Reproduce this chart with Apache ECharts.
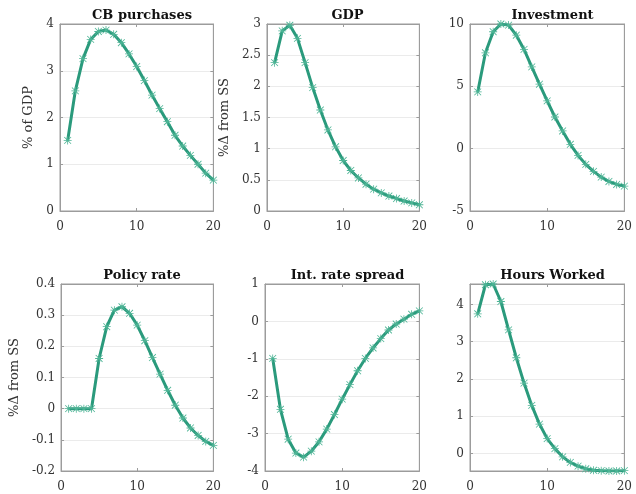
<!DOCTYPE html>
<html>
<head>
<meta charset="utf-8">
<script src="https://cdn.jsdelivr.net/npm/echarts@6/dist/echarts.min.js"></script>
<style>
  html, body { margin: 0; padding: 0; background: #fff; }
  #chart { position: relative; width: 636px; height: 494px; }
</style>
</head>
<body>
<div id="chart"></div>
<script>
// horizon 1..20
var periods = [1,2,3,4,5,6,7,8,9,10,11,12,13,14,15,16,17,18,19,20];

var titles = ['CB purchases', 'GDP', 'Investment', 'Policy rate', 'Int. rate spread', 'Hours Worked'];
var yNames = ['% of GDP', '%\u0394 from SS', '', '%\u0394 from SS', '', ''];

var cbPurchases = [1.51, 2.57, 3.26, 3.67, 3.84, 3.87, 3.78, 3.60, 3.36, 3.09, 2.79, 2.48, 2.19, 1.91, 1.62, 1.39, 1.19, 1.00, 0.81, 0.66];
var gdp = [2.38, 2.89, 2.98, 2.77, 2.38, 1.98, 1.62, 1.30, 1.03, 0.81, 0.65, 0.53, 0.43, 0.35, 0.29, 0.24, 0.20, 0.16, 0.13, 0.10];
var investment = [4.55, 7.69, 9.38, 10.0, 9.91, 9.10, 7.96, 6.56, 5.17, 3.83, 2.54, 1.42, 0.35, -0.54, -1.26, -1.82, -2.28, -2.63, -2.87, -3.0];
var policyRate = [0, 0, 0, 0, 0.161, 0.263, 0.316, 0.327, 0.306, 0.268, 0.218, 0.164, 0.111, 0.059, 0.011, -0.030, -0.062, -0.086, -0.105, -0.118];
var spread = [-0.99, -2.35, -3.15, -3.52, -3.63, -3.47, -3.22, -2.88, -2.49, -2.08, -1.69, -1.32, -0.99, -0.71, -0.46, -0.23, -0.07, 0.06, 0.19, 0.28];
var hours = [3.75, 4.53, 4.55, 4.08, 3.32, 2.57, 1.89, 1.29, 0.79, 0.40, 0.13, -0.09, -0.24, -0.34, -0.41, -0.45, -0.46, -0.47, -0.47, -0.46];

var seriesData = [cbPurchases, gdp, investment, policyRate, spread, hours];

// y axis limits and tick step per panel (last one is tight to the data)
var yMin = [0, 0, -5, -0.2, -4, -0.47];
var yMax = [4, 3, 10, 0.4, 1, 4.55];
var yStep = [1, 0.5, 5, 0.1, 1, 0];
var yNameGap = [15, 28, 0, 32, 0, 0];

var lefts = [60, 265, 470];
var widths = [154, 155, 155];
var tops = [24, 284];
var plotH = 187;

var lineColor = '#2a9a7c';
var markColor = '#4db495';
var boxColor = '#9c9c9c';
var textColor = '#333';
var fontFam = 'DejaVu Serif';

var star = 'path://M4.5 0H5.5V10H4.5Z M0 4.5H10V5.5H0Z M1.1 0.4L9.6 8.9L8.9 9.6L0.4 1.1Z M8.9 0.4L9.6 1.1L1.1 9.6L0.4 8.9Z';

var host = document.getElementById('chart');

function yAxisFor(i, right) {
    var tight = yStep[i] === 0;
    var ax = {
        type: 'value', min: yMin[i], max: yMax[i],
        position: right ? 'right' : 'left',
        axisLine: { show: true, onZero: false, lineStyle: { color: boxColor } },
        axisTick: { show: true, inside: true, length: 3, lineStyle: { color: boxColor } },
        axisLabel: right ? { show: false } : { color: textColor, fontFamily: fontFam, fontSize: 12, margin: 6 },
        splitLine: { show: !right, lineStyle: { color: '#ebebeb' } }
    };
    if (!right && yNames[i]) {
        ax.name = yNames[i];
        ax.nameLocation = 'middle';
        ax.nameGap = yNameGap[i];
        ax.nameTextStyle = { color: textColor, fontFamily: fontFam, fontSize: 13 };
    }
    if (tight) {
        ax.splitNumber = 5;
        if (!right) {
            ax.axisLabel.showMinLabel = false;
            ax.axisLabel.showMaxLabel = false;
        }
    } else {
        ax.interval = yStep[i];
    }
    return ax;
}

function xAxisFor(top) {
    return {
        type: 'value', min: 0, max: 20, interval: 10,
        position: top ? 'top' : 'bottom',
        axisLine: { show: true, onZero: false, lineStyle: { color: boxColor } },
        axisTick: { show: true, inside: true, length: 3, lineStyle: { color: boxColor } },
        axisLabel: top ? { show: false } : { color: textColor, fontFamily: fontFam, fontSize: 12, margin: 10 },
        splitLine: { show: false }
    };
}

// one chart instance per panel, each placed in the 636x494 frame
function drawPanel(i) {
    var col = i % 3, row = Math.floor(i / 3);
    var boxL = col === 0 ? 0 : lefts[col] - 55;
    var boxT = row === 0 ? 0 : 247;
    var boxW = lefts[col] + widths[col] + 10 - boxL;
    var boxH = 247;
    var div = document.createElement('div');
    div.style.cssText = 'position:absolute;left:' + boxL + 'px;top:' + boxT + 'px;width:' + boxW + 'px;height:' + boxH + 'px;';
    host.appendChild(div);

    var gl = lefts[col] - boxL, gt = tops[row] - boxT;

    var pts = [];
    for (var k = 0; k < periods.length; k++) {
        pts.push([periods[k], seriesData[i][k]]);
    }

    function build(withMirror) {
        return {
            animation: false,
            title: {
                text: titles[i],
                left: gl + widths[col] / 2,
                top: gt - 20,
                textAlign: 'center',
                textStyle: { fontFamily: fontFam, fontWeight: 'bold', fontSize: 13, color: '#111' }
            },
            grid: {
                left: gl, top: gt, width: widths[col], height: plotH,
                show: true, borderColor: boxColor, borderWidth: 1
            },
            xAxis: withMirror ? [xAxisFor(false), xAxisFor(true)] : [xAxisFor(false)],
            yAxis: withMirror ? [yAxisFor(i, false), yAxisFor(i, true)] : [yAxisFor(i, false)],
            series: [{
                type: 'line',
                xAxisIndex: 0,
                yAxisIndex: 0,
                data: pts,
                symbol: star,
                symbolSize: 8,
                showAllSymbol: true,
                lineStyle: { color: lineColor, width: 3 },
                itemStyle: { color: markColor }
            }]
        };
    }

    var c = echarts.init(div);
    try {
        c.setOption(build(true));
    } catch (e) {
        // fall back to a plain box without the mirrored tick marks
        c.dispose();
        c = echarts.init(div);
        c.setOption(build(false));
    }
}

for (var i = 0; i < 6; i++) {
    drawPanel(i);
}
</script>
</body>
</html>
